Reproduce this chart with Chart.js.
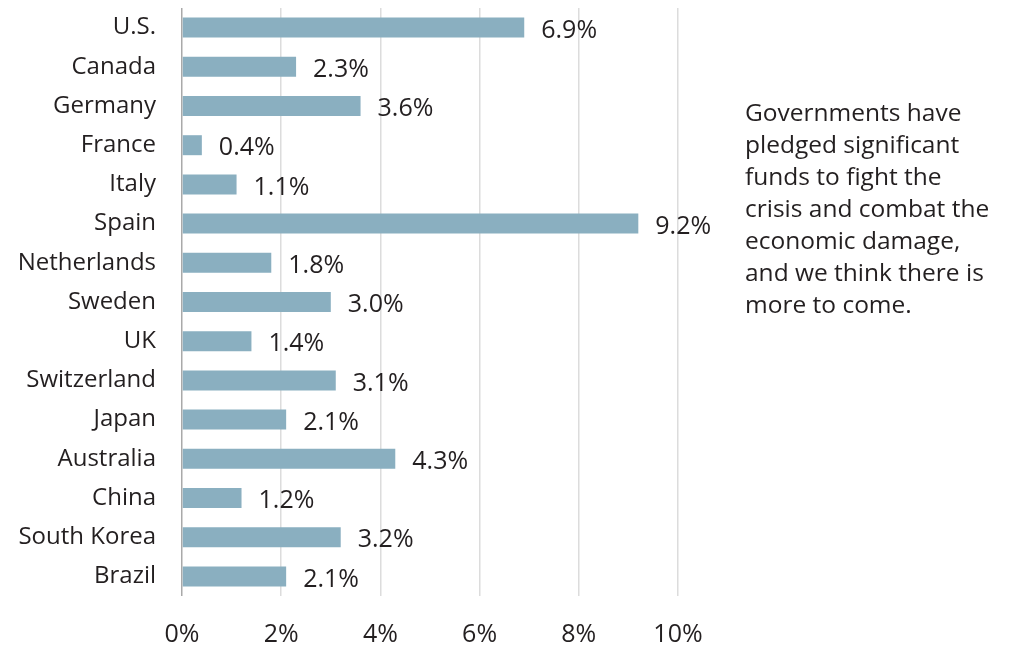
<!DOCTYPE html>
<html>
<head>
<meta charset="utf-8">
<script src="https://cdn.jsdelivr.net/npm/chart.js@4"></script>
<style>
  body { margin: 0; background: #fff; }
  #wrap { position: relative; width: 1009px; height: 645px; }
  #note {
    position: absolute; left: 745px; top: 96px;
    font-family: "Open Sans", sans-serif; font-size: 24.5px; line-height: 32px;
    color: #231f20; white-space: nowrap;
  }
</style>
</head>
<body>
<div id="wrap">
  <canvas id="myChart" width="1009" height="645"></canvas>
  <div id="note">Governments have<br>pledged significant<br>funds to fight the<br>crisis and combat the<br>economic damage,<br>and we think there is<br>more to come.</div>
</div>
<script>
var countries = ["U.S.", "Canada", "Germany", "France", "Italy", "Spain", "Netherlands", "Sweden", "UK", "Switzerland", "Japan", "Australia", "China", "South Korea", "Brazil"]
var stimulus = [6.9, 2.3, 3.6, 0.4, 1.1, 9.2, 1.8, 3.0, 1.4, 3.1, 2.1, 4.3, 1.2, 3.2, 2.1]
var xTicks = [0, 2, 4, 6, 8, 10]

var fontFamily = '"Open Sans", sans-serif'
var textColor = "#231f20"

// value labels at the end of each bar
var barLabels = {
    id: "barLabels",
    afterDatasetsDraw(chart) {
        var ctx = chart.ctx
        var meta = chart.getDatasetMeta(0)
        ctx.save()
        ctx.font = "25px " + fontFamily
        ctx.fillStyle = textColor
        ctx.textBaseline = "middle"
        ctx.textAlign = "left"
        meta.data.forEach(function (bar, i) {
            ctx.fillText(stimulus[i].toFixed(1) + "%", bar.x + 17, bar.y + 3)
        })
        ctx.restore()
    }
}

var chartField = document.querySelector("#myChart").getContext("2d")

var myChart = new Chart(chartField, {
    type: "bar",
    data: {
        labels: countries,
        datasets: [{
            data: stimulus,
            backgroundColor: "#8aafc0",
            barPercentage: 0.51,
            categoryPercentage: 1.0
        }]
    },
    options: {
        indexAxis: "y",
        responsive: false,
        animation: false,
        layout: { padding: { top: 8, right: 331, left: 0, bottom: 0 } },
        plugins: {
            legend: { display: false },
            tooltip: { enabled: false }
        },
        scales: {
            x: {
                min: 0,
                max: 10,
                afterBuildTicks: function (axis) {
                    axis.ticks = xTicks.map(function (v) { return { value: v } })
                },
                afterFit: function (axis) { axis.height = 49 },
                border: { display: false },
                grid: {
                    drawTicks: false,
                    lineWidth: 1.5,
                    color: function (c) { return c.tick && c.tick.value === 0 ? "#a9a9a9" : "#dcdcdc" }
                },
                ticks: {
                    padding: 24,
                    color: textColor,
                    font: { family: fontFamily, size: 25 },
                    callback: function (v) { return v + "%" }
                }
            },
            y: {
                afterFit: function (axis) { axis.width = 182 },
                border: { display: false },
                // invisible tick marks give the label gap without padding the top
                grid: { drawOnChartArea: false, drawTicks: true, tickLength: 26, tickColor: "rgba(0,0,0,0)" },
                ticks: {
                    padding: 0,
                    color: textColor,
                    font: { family: fontFamily, size: 24, lineHeight: 0.6 }
                }
            }
        }
    },
    plugins: [barLabels]
});
</script>
</body>
</html>
